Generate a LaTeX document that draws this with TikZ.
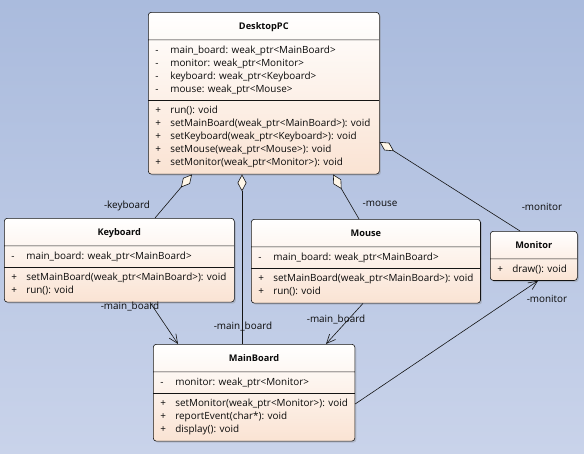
\documentclass[tikz,border=0pt]{standalone}
\usepackage{fontspec}
\setmainfont{Open Sans}
\usetikzlibrary{shapes.multipart,arrows.meta,shadows}

\definecolor{bgtop}{RGB}{170,187,221}
\definecolor{bgbot}{RGB}{201,211,234}
\definecolor{boxbot}{RGB}{250,227,211}
\definecolor{diafill}{RGB}{255,247,232}
\definecolor{umlline}{RGB}{20,20,20}
\definecolor{textcol}{RGB}{10,10,10}

\newcommand{\mem}[2]{\makebox[15pt][l]{#1}#2}
\newcommand{\memb}[1]{\begin{tabular}{@{}l@{}}#1\end{tabular}}
\newcommand{\clsname}[1]{\rule[-6.3pt]{0pt}{19pt}{\fontsize{9.2}{13}\selectfont\textbf{#1}}}

\tikzset{
  umlclass/.style={rectangle split, rectangle split parts=3,
    rectangle split part align={center,left,left},
    draw=umlline, line width=0.6pt, rounded corners=3pt,
    top color=white, bottom color=boxbot,
    drop shadow={shadow xshift=1.5pt,shadow yshift=-1.5pt,opacity=0.3},
    inner xsep=7pt, inner ysep=4pt, anchor=north west,
    font=\fontsize{9.9}{13}\selectfont, text=textcol},
  agg/.style={draw=umlline, line width=0.6pt, {Diamond[length=17pt,width=9pt,fill=diafill]}-},
  assoc/.style={draw=umlline, line width=0.6pt, -{Straight Barb[length=9pt,width=8pt]}},
  role/.style={font=\fontsize{9.9}{13}\selectfont, text=textcol, inner sep=0pt}
}

\begin{document}
\begin{tikzpicture}[x=1pt,y=-1pt]
\shade[top color=bgtop, bottom color=bgbot] (0,0) rectangle (584,453);
\useasboundingbox (0,0) rectangle (584,453);

\node[umlclass, minimum width=231pt] (desktop) at (148,12)
  {\clsname{DesktopPC}
   \nodepart{two}\memb{\mem{-}{main\_board: weak\_ptr<MainBoard>}\\
     \mem{-}{monitor: weak\_ptr<Monitor>}\\
     \mem{-}{keyboard: weak\_ptr<Keyboard>}\\
     \mem{-}{mouse: weak\_ptr<Mouse>}}
   \nodepart{three}\memb{\mem{+}{run(): void}\\
     \mem{+}{setMainBoard(weak\_ptr<MainBoard>): void}\\
     \mem{+}{setKeyboard(weak\_ptr<Keyboard>): void}\\
     \mem{+}{setMouse(weak\_ptr<Mouse>): void}\\
     \mem{+}{setMonitor(weak\_ptr<Monitor>): void}}};

\node[umlclass, minimum width=230pt] (keyboard) at (4,218)
  {\clsname{Keyboard}
   \nodepart{two}\memb{\mem{-}{main\_board: weak\_ptr<MainBoard>}}
   \nodepart{three}\memb{\mem{+}{setMainBoard(weak\_ptr<MainBoard>): void}\\
     \mem{+}{run(): void}}};

\node[umlclass, minimum width=229pt] (mouse) at (251,219)
  {\clsname{Mouse}
   \nodepart{two}\memb{\mem{-}{main\_board: weak\_ptr<MainBoard>}}
   \nodepart{three}\memb{\mem{+}{setMainBoard(weak\_ptr<MainBoard>): void}\\
     \mem{+}{run(): void}}};

\node[umlclass, minimum width=87pt, rectangle split parts=2,
  rectangle split part align={center,left}] (monitor) at (490,231)
  {\clsname{Monitor}
   \nodepart{two}\memb{\mem{+}{draw(): void}}};

\node[umlclass, minimum width=201pt] (mainboard) at (153,344)
  {\clsname{MainBoard}
   \nodepart{two}\memb{\mem{-}{monitor: weak\_ptr<Monitor>}}
   \nodepart{three}\memb{\mem{+}{setMonitor(weak\_ptr<Monitor>): void}\\
     \mem{+}{reportEvent(char*): void}\\
     \mem{+}{display(): void}}};

\draw[agg] ([xshift=44pt]desktop.south west) -- ([xshift=151pt]keyboard.north west);
\draw[agg] ([xshift=94pt]desktop.south west) -- ([xshift=89pt]mainboard.north west);
\draw[agg] ([xshift=185pt]desktop.south west) -- ([xshift=108pt]mouse.north west);
\draw[agg] ([yshift=-130pt]desktop.north east) -- ([xshift=30pt]monitor.north west);
\draw[assoc] ([xshift=146pt]keyboard.south west) -- ([xshift=25pt]mainboard.north west);
\draw[assoc] ([xshift=112pt]mouse.south west) -- ([xshift=173pt]mainboard.north west);
\draw[assoc] ([yshift=-60pt]mainboard.north east) -- ([xshift=48pt]monitor.south west);

\node[role] (kblbl) at (127,206) {-keyboard};
\node[role] (mblbl1) at (243,326) {-main\_board};
\node[role] (mslbl) at (380,204) {-mouse};
\node[role] (mnlbl1) at (542,207) {-monitor};
\node[role] (mblbl2) at (130,306) {-main\_board};
\node[role] (mblbl3) at (336,319) {-main\_board};
\node[role] (mnlbl2) at (547,299) {-monitor};
\end{tikzpicture}
\end{document}
